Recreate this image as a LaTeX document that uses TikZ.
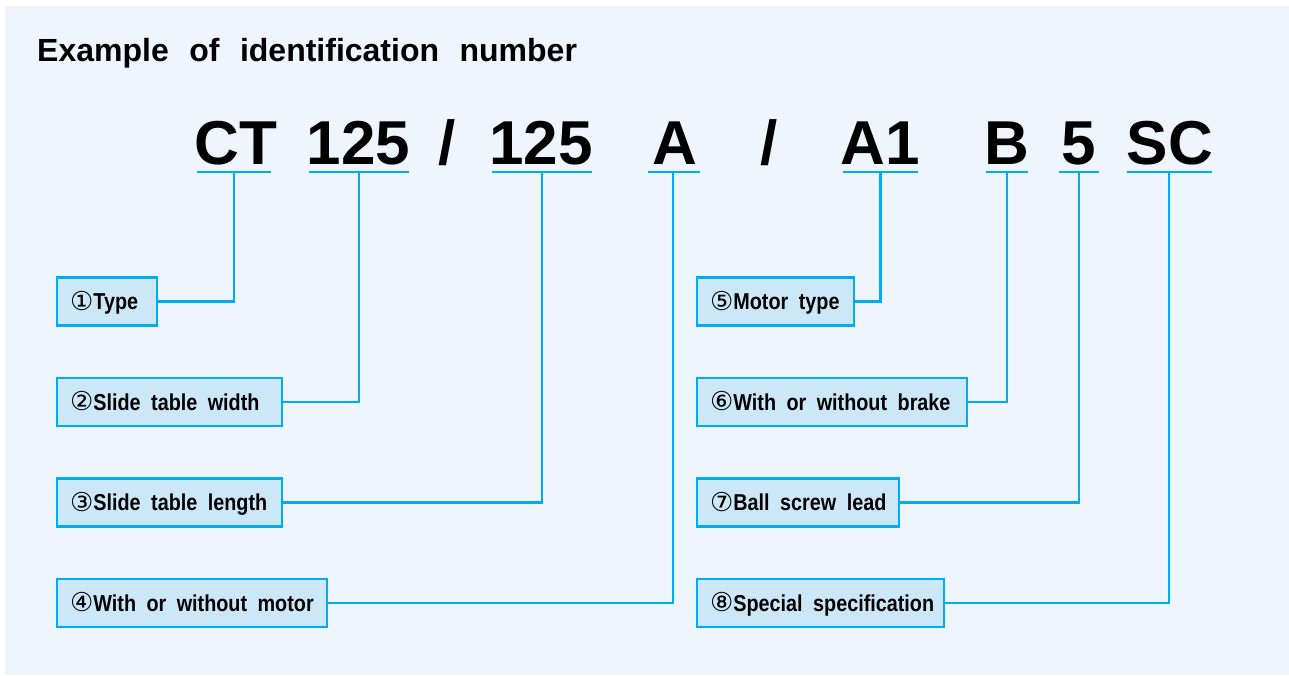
\documentclass[tikz,border=0pt]{standalone}
\usepackage{fontspec}
\setmainfont{Liberation Sans}
\newfontfamily\labfont{Liberation Sans}[FakeStretch=0.86]
\newfontfamily\circfont{DejaVu Sans}
\definecolor{cy}{RGB}{0,174,239}
\definecolor{boxc}{RGB}{204,232,248}
\definecolor{bgc}{RGB}{239,245,253}
\newcommand{\cn}[1]{{\circfont\mdseries\fontsize{26}{26}\selectfont\raisebox{-0.6pt}{#1}}}
\newcommand{\lb}[2]{\makebox[#1][l]{#2}}
\begin{document}
\begin{tikzpicture}[x=1pt,y=-1pt,
  lab/.style={draw=cy, line width=2.2pt, fill=boxc, anchor=west, inner xsep=13pt,
    inner ysep=0pt, minimum height=48pt, text height=16pt, text depth=0pt,
    font={\labfont\bfseries\fontsize{23}{26}\selectfont\spaceskip=10.5pt\relax}},
  code/.style={anchor=base, inner sep=0pt, font=\bfseries\fontsize{62}{62}\selectfont},
  ln/.style={draw=cy, line width=2.2pt}]
\useasboundingbox (0,0) rectangle (1289,675);
\fill[bgc] (5,6) rectangle (1289,675);
\node[anchor=base west, inner sep=0pt, font={\bfseries\fontsize{32}{36}\selectfont\spaceskip=20.5pt\relax}] (title) at (37,61) {Example of identification number};
% code pieces
\node[code] (c1) at (236,164) {CT};
\node[code] (c2) at (358.5,164) {125};
\node[code] (s1) at (447.5,164) {/};
\node[code] (c3) at (541,164) {125};
\node[code] (c4) at (674.5,164) {A};
\node[code] (s2) at (769,164) {/};
\node[code] (c5) at (880,164) {A1};
\node[code] (c6) at (1007,164) {B};
\node[code] (c7) at (1078.5,164) {5};
\node[code] (c8) at (1170,164) {SC};
% underline midpoints
\coordinate (u1) at (234,172);
\coordinate (u2) at (359,172);
\coordinate (u3) at (542,172);
\coordinate (u4) at (673,172);
\coordinate (u5) at (880.5,172);
\coordinate (u6) at (1007,172);
\coordinate (u7) at (1079,172);
\coordinate (u8) at (1169,172);
\draw[ln] ([xshift=-37pt]u1) -- ([xshift=37pt]u1);
\draw[ln] ([xshift=-50pt]u2) -- ([xshift=50pt]u2);
\draw[ln] ([xshift=-50pt]u3) -- ([xshift=50pt]u3);
\draw[ln] ([xshift=-25pt]u4) -- ([xshift=27pt]u4);
\draw[ln] ([xshift=-37.5pt]u5) -- ([xshift=37.5pt]u5);
\draw[ln] ([xshift=-21pt]u6) -- ([xshift=21pt]u6);
\draw[ln] ([xshift=-20pt]u7) -- ([xshift=20pt]u7);
\draw[ln] ([xshift=-42.5pt]u8) -- ([xshift=42.5pt]u8);
% boxes
\node[lab] (b1) at (56,301.5) {\lb{74pt}{\cn{①}Type}};
\node[lab] (b2) at (56,402) {\lb{199pt}{\cn{②}Slide table width}};
\node[lab] (b3) at (56,502.5) {\lb{199pt}{\cn{③}Slide table length}};
\node[lab] (b4) at (56,603) {\lb{244pt}{\cn{④}With or without motor}};
\node[lab] (b5) at (696,301.5) {\lb{130.5pt}{\cn{⑤}Motor type}};
\node[lab] (b6) at (696,402) {\lb{244pt}{\cn{⑥}With or without brake}};
\node[lab] (b7) at (696,502.5) {\lb{176pt}{\cn{⑦}Ball screw lead}};
\node[lab] (b8) at (696,603) {\lb{221pt}{\cn{⑧}Special specification}};
% connectors
\draw[ln] (u1) |- (b1.east);
\draw[ln] (u2) |- (b2.east);
\draw[ln] (u3) |- (b3.east);
\draw[ln] (u4) |- (b4.east);
\draw[ln] (u5) |- (b5.east);
\draw[ln] (u6) |- (b6.east);
\draw[ln] (u7) |- (b7.east);
\draw[ln] (u8) |- (b8.east);
\end{tikzpicture}
\end{document}
